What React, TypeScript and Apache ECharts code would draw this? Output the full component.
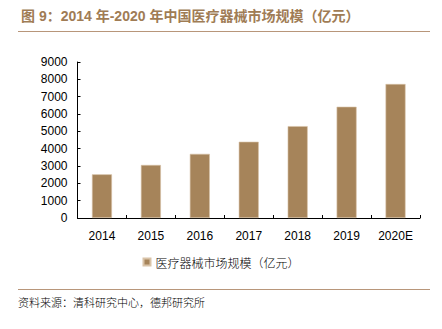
import React, { useEffect, useRef } from "react";
import * as echarts from "echarts";

const categories = ["2014", "2015", "2016", "2017", "2018", "2019", "2020E"];
const marketSize = [2520, 3060, 3700, 4400, 5300, 6420, 7730];
const seriesName = "医疗器械市场规模（亿元）";
const titleText = "图 9：2014 年-2020 年中国医疗器械市场规模（亿元）";
const sourceText = "资料来源：清科研究中心，德邦研究所";

export default function App() {
  const ref = useRef<HTMLDivElement>(null);
  useEffect(() => {
    if (!ref.current) return;
    const chart = echarts.init(ref.current, undefined, { renderer: "svg" });
    chart.setOption({
      animation: false,
      backgroundColor: "#ffffff",
      grid: { left: 77.5, right: 22, top: 62, bottom: 111, containLabel: false },
      xAxis: {
        type: "category",
        data: categories,
        axisLine: { lineStyle: { color: "#000", width: 1 } },
        axisTick: { show: true, inside: true, length: 3, lineStyle: { color: "#000" } },
        axisLabel: { color: "#000", fontSize: 12, fontFamily: "Liberation Sans, Arial", margin: 12 },
      },
      yAxis: {
        type: "value",
        min: 0,
        max: 9000,
        interval: 1000,
        axisLine: { show: true, lineStyle: { color: "#000", width: 1 } },
        axisTick: { show: true, inside: true, length: 3, lineStyle: { color: "#000" } },
        splitLine: { show: false },
        axisLabel: {
          color: "#000",
          fontSize: 12,
          fontFamily: "Liberation Sans, Arial",
          margin: 10,
          formatter: (v: number) => String(v),
        },
      },
      legend: {
        show: true,
        bottom: 56,
        left: "center",
        itemWidth: 7,
        itemHeight: 7,
        icon: "rect",
        itemGap: 4,
        textStyle: { fontSize: 12, color: "#000", fontFamily: "Noto Sans CJK SC", fontWeight: 300 },
        data: [seriesName],
      },
      series: [
        {
          name: seriesName,
          type: "bar",
          data: marketSize,
          barWidth: 20,
          itemStyle: { color: "#A6845A", borderColor: "#D9C3A8", borderWidth: 0.6 },
        },
      ],
      graphic: [
        {
          type: "text",
          left: 21,
          top: 9,
          style: {
            text: titleText,
            fontSize: 14,
            fontWeight: "bold",
            fill: "#A07C55",
            fontFamily: "Liberation Sans, Noto Sans CJK SC",
          },
        },
        {
          type: "line",
          shape: { x1: 18, y1: 31.5, x2: 430, y2: 31.5 },
          style: { stroke: "#B8967A", lineWidth: 1.2 },
        },
        {
          type: "line",
          shape: { x1: 18, y1: 289.5, x2: 430, y2: 289.5 },
          style: { stroke: "#B8967A", lineWidth: 1.2 },
        },
        {
          type: "text",
          left: 18,
          top: 296,
          style: {
            text: sourceText,
            fontSize: 11,
            fill: "#000",
            fontFamily: "Noto Sans CJK SC",
            fontWeight: 300,
          },
        },
      ],
    });
    return () => chart.dispose();
  }, []);
  return <div ref={ref} style={{ width: 442, height: 329, margin: -8 }} />;
}
